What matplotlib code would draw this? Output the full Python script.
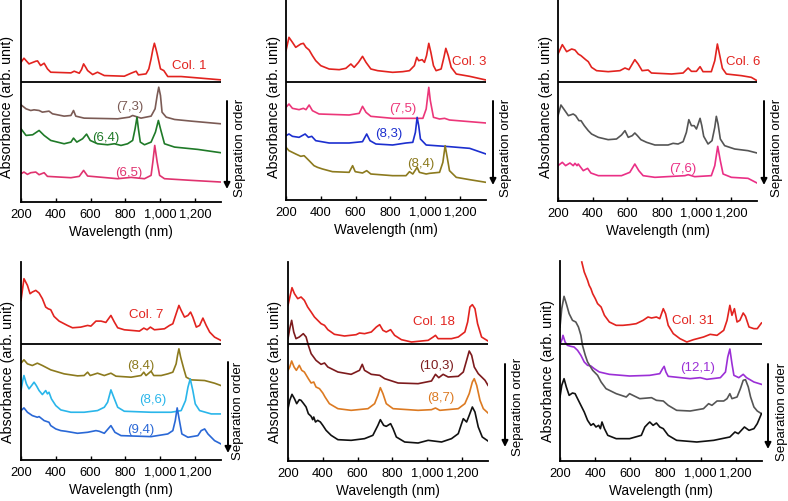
#!/usr/bin/env python3
import matplotlib
matplotlib.use("Agg")
import matplotlib.pyplot as plt

plt.rcParams["font.family"] = ["Liberation Sans", "DejaVu Sans"]

W, H = 788, 502

TICKS = [200, 400, 600, 800, 1000, 1200]
TICK_LABELS = ["200", "400", "600", "800", "1,000", "1,200"]

# ---- Col. 1 ----
COL1_WL = [200, 217, 246, 285, 295, 313, 333, 352, 371, 430, 487, 506, 535, 548, 560, 572, 583, 612, 640, 679,
           794, 833, 862, 875, 919, 935, 948, 958, 967, 975, 983, 1002, 1021, 1044, 1121, 1237, 1350]
COL1_ABS = [6.0, 7.2, 5.5, 6.3, 6.4, 5.0, 5.7, 4.0, 3.0, 2.9, 2.8, 3.3, 2.7, 3.8, 5.5, 4.5, 3.5, 2.3, 3.0, 2.0,
            1.8, 2.7, 3.3, 2.2, 2.5, 4.0, 7.0, 9.8, 11.7, 10.2, 8.5, 4.0, 3.5, 1.7, 1.7, 1.2, 0.7]
S73_WL = [200, 229, 256, 275, 304, 323, 361, 381, 448, 487, 502, 515, 563, 756, 823, 842, 890, 948, 971, 983,
          992, 1002, 1011, 1035, 1083, 1179, 1350]
S73_ABS = [6.2, 5.0, 4.5, 4.7, 4.5, 4.0, 4.3, 3.5, 2.8, 3.0, 4.5, 2.8, 2.2, 2.0, 2.5, 3.0, 2.2, 2.8, 5.0, 9.0,
           11.5, 9.0, 4.0, 2.5, 1.8, 1.3, 0.5]
S64_WL = [200, 229, 267, 304, 333, 371, 448, 487, 502, 521, 554, 577, 598, 640, 698, 737, 775, 813, 842, 856,
          867, 875, 886, 910, 948, 973, 990, 1002, 1025, 1083, 1217, 1350]
S64_ABS = [8.0, 6.0, 6.2, 7.5, 6.0, 4.5, 3.5, 4.0, 5.2, 4.0, 5.0, 6.4, 4.5, 3.5, 3.2, 3.5, 3.0, 3.5, 4.5, 8.0,
           11.5, 8.0, 4.0, 3.2, 4.0, 7.0, 10.5, 8.0, 3.5, 2.5, 1.8, 0.8]
S65_WL = [200, 217, 237, 256, 285, 304, 333, 352, 487, 535, 560, 583, 756, 833, 910, 948, 958, 969, 983, 997,
          1025, 1179, 1350]
S65_ABS = [3.5, 4.0, 3.3, 3.8, 4.0, 3.2, 3.8, 2.7, 2.3, 2.7, 4.5, 2.8, 2.0, 2.4, 2.0, 3.0, 7.0, 12.0, 7.0, 3.0,
           2.0, 1.5, 1.0]

# ---- Col. 3 ----
COL3_WL = [200, 217, 237, 256, 285, 300, 315, 333, 352, 371, 400, 448, 506, 544, 573, 592, 617, 640, 660, 688,
           727, 813, 871, 910, 938, 952, 963, 983, 996, 1008, 1021, 1033, 1048, 1063, 1092, 1108, 1119, 1133,
           1150, 1179, 1256, 1350]
COL3_ABS = [9.8, 13.8, 12.3, 10.8, 11.8, 12.0, 10.8, 10.0, 8.3, 6.8, 5.3, 4.3, 4.1, 4.5, 5.8, 4.8, 6.3, 8.1,
            6.3, 4.3, 3.8, 3.3, 3.5, 3.8, 5.3, 7.8, 6.8, 7.1, 6.3, 8.3, 12.0, 9.3, 5.3, 3.8, 4.3, 7.8, 10.5,
            8.3, 4.8, 2.8, 2.1, 1.0]
S75_WL = [200, 217, 237, 275, 300, 315, 333, 352, 390, 563, 621, 640, 660, 688, 813, 987, 1006, 1014, 1021,
          1030, 1048, 1083, 1112, 1140, 1350]
S75_ABS = [5.8, 6.8, 5.5, 5.1, 5.5, 5.1, 6.5, 4.8, 3.8, 3.5, 4.0, 6.1, 4.3, 3.1, 2.5, 2.5, 5.3, 8.8, 11.8,
           7.8, 2.8, 2.3, 2.5, 2.0, 1.1]
S83_WL = [200, 217, 237, 275, 310, 329, 348, 371, 448, 563, 640, 664, 683, 717, 813, 890, 929, 944, 954, 963,
          973, 1006, 1140, 1256, 1350]
S83_ABS = [6.3, 6.8, 6.1, 5.8, 6.8, 5.8, 6.1, 4.8, 4.1, 4.1, 4.5, 6.8, 4.8, 3.8, 3.5, 4.1, 4.3, 7.3, 11.8,
           9.3, 5.3, 3.5, 3.0, 2.5, 0.8]
S84A_WL = [200, 217, 256, 285, 304, 333, 361, 381, 410, 467, 563, 583, 598, 640, 664, 688, 813, 890, 910, 929,
           954, 967, 1006, 1025, 1083, 1102, 1115, 1127, 1140, 1179, 1256, 1350]
S84A_ABS = [10.8, 9.8, 8.8, 8.1, 8.3, 6.8, 5.3, 4.8, 4.3, 3.5, 3.3, 5.3, 3.5, 3.1, 3.8, 2.8, 2.3, 2.3, 3.5,
            2.8, 4.8, 3.3, 2.8, 3.0, 3.3, 6.3, 11.3, 7.8, 3.8, 1.8, 1.1, 0.3]

# ---- Col. 6 ----
COL6_WL = [200, 225, 250, 279, 298, 317, 333, 360, 375, 394, 423, 490, 558, 587, 610, 644, 663, 686, 721, 740,
           856, 923, 952, 971, 1000, 1021, 1038, 1086, 1106, 1121, 1135, 1150, 1173, 1260, 1317, 1350]
COL6_ABS = [8.1, 10.9, 8.8, 9.6, 9.3, 8.1, 7.6, 6.4, 5.8, 4.1, 3.1, 2.8, 3.1, 3.9, 3.4, 6.4, 5.1, 3.1, 3.3,
            2.4, 2.1, 2.4, 3.9, 2.9, 2.9, 4.3, 2.8, 2.8, 6.1, 11.1, 7.6, 3.8, 2.1, 1.6, 1.1, 0.1]
GRAY3_WL = [200, 217, 240, 260, 288, 302, 321, 333, 352, 375, 394, 433, 490, 538, 567, 587, 606, 629, 644, 659,
            679, 712, 760, 836, 865, 894, 923, 942, 956, 971, 987, 1000, 1010, 1021, 1031, 1042, 1067, 1090,
            1106, 1115, 1125, 1138, 1163, 1221, 1298, 1350]
GRAY3_ABS = [11.6, 14.8, 13.1, 11.6, 12.1, 11.6, 10.1, 10.1, 8.6, 7.1, 6.1, 5.1, 4.4, 4.6, 5.8, 7.1, 5.1, 5.6,
             6.4, 5.6, 4.4, 3.6, 2.8, 2.8, 3.3, 3.1, 3.8, 6.6, 10.4, 8.6, 8.6, 7.6, 9.1, 10.8, 8.6, 5.4, 3.1,
             4.1, 8.1, 11.4, 9.1, 4.6, 2.6, 1.6, 1.1, 0.4]
S76_WL = [200, 225, 244, 269, 288, 298, 310, 317, 346, 371, 390, 433, 567, 615, 644, 667, 692, 760, 933, 952,
          990, 1086, 1106, 1123, 1138, 1154, 1202, 1298, 1350]
S76_ABS = [5.6, 6.6, 5.6, 6.4, 5.6, 6.3, 5.6, 6.1, 4.1, 4.8, 3.4, 2.6, 2.6, 3.6, 6.1, 4.1, 2.6, 2.1, 2.6, 2.9,
           2.3, 2.6, 5.6, 11.4, 7.1, 3.1, 2.1, 1.8, 0.4]

# ---- Col. 7 ----
COL7_WL = [200, 217, 237, 252, 265, 285, 304, 323, 342, 356, 371, 390, 419, 467, 496, 544, 583, 602, 631, 660,
           688, 717, 737, 756, 794, 881, 906, 925, 944, 967, 1025, 1054, 1073, 1092, 1108, 1121, 1140, 1160,
           1175, 1188, 1208, 1227, 1246, 1265, 1285, 1313, 1350]
COL7_ABS = [13.8, 20.3, 18.3, 15.8, 16.3, 16.8, 16.0, 14.3, 11.8, 11.3, 11.0, 9.0, 7.6, 6.3, 5.6, 5.8, 6.3,
            6.1, 7.6, 7.6, 7.2, 9.3, 7.3, 5.6, 5.0, 4.6, 5.5, 5.0, 5.8, 5.0, 5.3, 6.3, 6.8, 9.8, 12.3, 10.8,
            8.8, 9.3, 10.3, 8.8, 5.8, 6.3, 8.5, 6.3, 4.3, 2.8, 1.8]
S84B_WL = [200, 217, 237, 265, 294, 323, 371, 448, 525, 563, 583, 598, 640, 679, 717, 746, 833, 890, 906, 919,
           948, 963, 1006, 1044, 1073, 1092, 1100, 1108, 1118, 1136, 1150, 1179, 1256, 1313, 1350]
S84B_ABS = [7.0, 8.0, 6.8, 6.3, 7.0, 6.3, 5.0, 3.8, 3.2, 3.3, 4.3, 3.3, 4.0, 3.3, 4.0, 3.1, 2.8, 3.3, 4.3, 3.3,
            4.6, 3.3, 3.3, 3.8, 4.3, 6.8, 9.3, 11.3, 8.8, 5.3, 2.8, 2.0, 1.8, 1.0, 0.3]
S86_WL = [200, 210, 217, 231, 246, 261, 275, 288, 304, 323, 342, 352, 361, 375, 400, 429, 487, 563, 640, 679,
          698, 717, 737, 756, 794, 948, 1063, 1121, 1146, 1160, 1173, 1188, 1202, 1227, 1294, 1350]
S86_ABS = [7.8, 10.8, 12.3, 9.8, 8.3, 9.3, 10.3, 9.3, 7.8, 6.6, 7.8, 6.8, 7.3, 5.3, 3.3, 2.0, 1.3, 1.3, 1.8,
           2.8, 4.3, 8.0, 5.3, 2.8, 1.6, 1.3, 1.3, 1.8, 4.8, 8.8, 11.3, 7.8, 3.8, 1.8, 0.8, 0.8]
S94_WL = [200, 217, 237, 265, 294, 304, 333, 361, 371, 400, 429, 458, 525, 583, 631, 650, 679, 717, 740, 775,
          948, 1044, 1073, 1087, 1098, 1111, 1125, 1160, 1217, 1236, 1256, 1275, 1313, 1350]
S94_ABS = [10.8, 11.6, 10.3, 9.3, 8.8, 9.0, 7.8, 7.3, 6.3, 5.3, 4.8, 4.6, 4.0, 4.3, 4.8, 4.6, 4.0, 6.3, 4.3,
           3.3, 3.0, 3.8, 4.8, 7.8, 11.6, 7.8, 3.8, 2.8, 3.3, 4.8, 5.3, 3.8, 1.8, 0.8]

# ---- Col. 18 ----
COL18_WL = [200, 215, 223, 237, 256, 275, 294, 313, 333, 352, 371, 390, 410, 429, 467, 525, 592, 611, 640, 679,
            708, 727, 746, 765, 790, 813, 852, 910, 1006, 1035, 1048, 1063, 1140, 1179, 1217, 1233, 1246, 1260,
            1275, 1290, 1313, 1350]
COL18_ABS = [11.7, 15.2, 17.0, 15.2, 13.7, 14.2, 13.2, 11.2, 9.7, 8.2, 7.2, 6.2, 5.7, 4.4, 3.0, 2.5, 2.9, 3.4,
             3.2, 3.7, 5.2, 5.9, 4.2, 3.7, 4.4, 2.7, 1.4, 0.7, 1.2, 2.2, 2.7, 1.7, 1.7, 2.2, 3.7, 6.7, 11.2,
             11.9, 10.7, 6.2, 2.2, 1.0]
S103_WL = [200, 210, 221, 233, 246, 265, 288, 304, 317, 333, 361, 390, 410, 429, 487, 563, 611, 627, 640, 679,
           727, 756, 833, 948, 1025, 1048, 1067, 1092, 1121, 1179, 1208, 1227, 1242, 1256, 1271, 1294, 1333, 1350]
S103_ABS = [14.7, 17.7, 20.2, 16.7, 14.7, 15.2, 16.2, 15.2, 12.7, 10.2, 8.2, 7.0, 7.4, 6.2, 4.7, 4.0, 5.2, 7.0,
            5.2, 4.0, 3.7, 2.7, 1.4, 1.2, 2.0, 4.0, 3.0, 4.0, 3.2, 3.4, 4.7, 8.2, 11.0, 9.7, 6.2, 4.2, 2.2, 0.7]
S87_WL = [200, 210, 221, 235, 248, 265, 279, 294, 317, 333, 348, 361, 381, 400, 413, 438, 487, 563, 660, 698,
          717, 731, 746, 765, 804, 948, 1025, 1048, 1073, 1179, 1217, 1242, 1260, 1271, 1285, 1304, 1323, 1350]
S87_ABS = [13.2, 14.2, 16.0, 14.2, 13.2, 14.7, 13.2, 12.7, 10.7, 9.4, 9.7, 8.2, 7.7, 6.4, 5.2, 3.2, 1.7, 1.2,
           1.7, 3.2, 5.7, 8.0, 6.2, 3.2, 1.7, 1.2, 1.4, 1.9, 1.2, 1.7, 3.2, 6.2, 9.7, 10.7, 8.7, 4.2, 1.7, 0.4]
BLACK5_WL = [200, 210, 223, 237, 250, 265, 275, 290, 304, 317, 333, 342, 348, 358, 371, 386, 400, 419, 448, 487,
             563, 640, 688, 717, 731, 750, 765, 790, 804, 823, 871, 948, 1006, 1083, 1140, 1179, 1198, 1208,
             1227, 1242, 1260, 1275, 1294, 1317, 1350]
BLACK5_ABS = [10.7, 13.2, 15.0, 13.7, 12.2, 13.4, 13.2, 12.2, 11.2, 9.2, 8.4, 7.4, 8.2, 6.7, 7.2, 6.7, 5.7,
              4.2, 2.7, 1.4, 1.2, 1.7, 2.7, 5.7, 7.4, 5.7, 5.4, 6.2, 4.7, 2.2, 0.7, 0.4, 1.2, 0.7, 1.7, 3.2,
              6.2, 7.7, 6.7, 8.7, 11.2, 9.7, 5.2, 2.2, 1.0]

# ---- Col. 31 ----
COL31_WL = [324, 338, 357, 366, 376, 386, 401, 414, 434, 453, 481, 520, 558, 596, 634, 673, 701, 721, 749, 768,
            788, 801, 816, 845, 883, 922, 960, 1017, 1055, 1094, 1132, 1151, 1167, 1179, 1193, 1208, 1224, 1243,
            1256, 1276, 1304, 1323, 1347]
COL31_ABS = [24.7, 21.7, 19.2, 17.7, 16.7, 15.2, 13.7, 12.2, 11.2, 8.7, 6.7, 5.7, 5.7, 5.9, 6.2, 7.2, 8.2, 7.9,
             8.2, 7.7, 10.7, 9.2, 5.7, 3.2, 1.7, 0.7, 1.4, 2.2, 3.0, 2.7, 4.2, 7.2, 11.7, 8.7, 10.7, 6.7, 7.2,
             9.4, 8.4, 5.2, 4.7, 4.7, 6.4]
S121_WL = [200, 213, 217, 229, 242, 261, 280, 300, 319, 338, 357, 376, 395, 424, 481, 596, 711, 768, 784, 793,
           803, 816, 941, 998, 1036, 1113, 1142, 1155, 1167, 1179, 1190, 1218, 1243, 1262, 1304, 1347]
S121_ABS = [12.0, 13.7, 14.7, 12.7, 11.7, 11.4, 11.2, 10.2, 8.7, 6.7, 5.7, 5.5, 4.7, 3.7, 3.0, 2.5, 2.7, 3.2,
            4.7, 5.4, 3.7, 2.4, 1.7, 2.0, 1.5, 2.0, 3.7, 8.2, 10.6, 6.2, 2.7, 2.0, 3.0, 2.0, 0.7, 0.0]
GRAY6_WL = [200, 210, 223, 236, 252, 271, 290, 305, 319, 328, 344, 357, 386, 414, 434, 462, 520, 577, 596, 615,
            654, 721, 749, 788, 816, 864, 941, 1017, 1046, 1065, 1094, 1132, 1151, 1167, 1179, 1208, 1227, 1243,
            1256, 1272, 1285, 1304, 1323, 1347]
GRAY6_ABS = [26.2, 31.7, 35.4, 33.2, 30.2, 28.2, 27.7, 26.2, 23.7, 20.7, 17.7, 15.7, 13.2, 11.7, 9.7, 7.7, 6.2,
             5.2, 6.2, 5.7, 4.7, 5.0, 4.2, 4.0, 2.7, 1.2, 1.0, 1.7, 3.2, 2.7, 4.0, 4.0, 4.7, 6.2, 4.7, 5.2, 7.7,
             10.2, 10.4, 8.2, 5.2, 2.2, 1.0, 0.2]
BLACK6_WL = [200, 210, 223, 236, 252, 271, 286, 300, 319, 338, 357, 376, 390, 405, 420, 430, 439, 453, 472, 520,
             596, 663, 683, 701, 711, 730, 749, 768, 788, 816, 864, 979, 1075, 1167, 1196, 1215, 1250, 1276,
             1304, 1323, 1347]
BLACK6_ABS = [14.2, 17.7, 19.7, 17.2, 14.7, 15.4, 15.2, 13.7, 11.7, 9.7, 7.2, 5.7, 6.2, 5.2, 5.7, 4.7, 6.7,
              4.7, 2.7, 1.7, 1.7, 2.7, 5.2, 6.2, 6.7, 5.7, 6.4, 5.2, 4.7, 2.7, 1.2, 0.7, 1.2, 2.2, 3.7, 3.2,
              5.2, 4.2, 4.7, 6.2, 9.2]

RED = "#e2231f"
C73 = "#7b5b55"
C64 = "#1f7a28"
C65 = "#e0336f"
C75 = "#ec3679"
C83 = "#1c2fcf"
C84 = "#8c7a1e"
GRAY = "#555555"
C76 = "#ea2f86"
C86 = "#2ab6ea"
C94 = "#2a68d6"
C103 = "#7d1b1d"
C87 = "#dc7a22"
BLACK = "#111111"
C121 = "#9b2fd6"

# layout: box (left, top, right, bottom) in pixels, y-top, separator level
PANELS = [
    dict(box=(21, 0, 221, 203), ytop=61.0, sep=36.2,
         curves=[(COL1_WL, COL1_ABS, 36, RED), (S73_WL, S73_ABS, 23, C73),
                 (S64_WL, S64_ABS, 14, C64), (S65_WL, S65_ABS, 5, C65)],
         labels=[("Col. 1", 1169, 41.2, RED), ("(7,3)", 823, 28.8, C73),
                 ("(6,4)", 688, 19.5, C64), ("(6,5)", 819, 9.0, C65)],
         arrow=(227, 102, 190), order=(240, 148), ylab=(7, 107)),
    dict(box=(286, 0, 486, 201), ytop=60.3, sep=35.5,
         curves=[(COL3_WL, COL3_ABS, 35, RED), (S75_WL, S75_ABS, 22, C75),
                 (S83_WL, S83_ABS, 13, C83), (S84A_WL, S84A_ABS, 5, C84)],
         labels=[("Col. 3", 1256, 41.6, RED), ("(7,5)", 871, 27.5, C75),
                 ("(8,3)", 792, 20.2, C83), ("(8,4)", 977, 11.0, C84)],
         arrow=(493, 102, 186), order=(506, 148), ylab=(274, 107)),
    dict(box=(558, 0, 757, 202), ytop=60.6, sep=35.8,
         curves=[(COL6_WL, COL6_ABS, 36, RED), (GRAY3_WL, GRAY3_ABS, 14, GRAY),
                 (S76_WL, S76_ABS, 5, C76)],
         labels=[("Col. 6", 1269, 41.9, RED), ("(7,6)", 923, 10.0, C76)],
         arrow=(764, 102, 186), order=(777, 148), ylab=(546, 107)),
    dict(box=(21, 263, 221, 461), ytop=59.3, sep=34.6,
         curves=[(COL7_WL, COL7_ABS, 34, RED), (S84B_WL, S84B_ABS, 22, C84),
                 (S86_WL, S86_ABS, 13, C86), (S94_WL, S94_ABS, 4, C94)],
         labels=[("Col. 7", 919, 43.8, RED), ("(8,4)", 890, 28.4, C84),
                 ("(8,6)", 958, 18.3, C86), ("(9,4)", 890, 9.2, C94)],
         arrow=(228, 363, 454), order=(238, 411), ylab=(8, 372)),
    dict(box=(288, 263, 488, 462), ytop=59.7, sep=35.0,
         curves=[(COL18_WL, COL18_ABS, 35, RED), (S103_WL, S103_ABS, 22, C103),
                 (S87_WL, S87_ABS, 14, C87), (BLACK5_WL, BLACK5_ABS, 5, BLACK)],
         labels=[("Col. 18", 1038, 41.9, RED), ("(10,3)", 1054, 28.8, C103),
                 ("(8,7)", 1081, 19.1, C87)],
         arrow=(505, 365, 448), order=(518, 407), ylab=(275, 372)),
    dict(box=(560, 262, 762, 462), ytop=60.0, sep=35.0,
         curves=[(COL31_WL, COL31_ABS, 35, RED), (S121_WL, S121_ABS, 23, C121),
                 (GRAY6_WL, GRAY6_ABS, 14, GRAY), (BLACK6_WL, BLACK6_ABS, 5, BLACK)],
         labels=[("Col. 31", 956, 42.2, RED), ("(12,1)", 981, 28.2, C121)],
         arrow=(768, 365, 450), order=(782, 412), ylab=(548, 371)),
]


def main():
    fig = plt.figure(figsize=(W / 100, H / 100), dpi=100)

    for p in PANELS:
        l, t, r, b = p["box"]
        ax = fig.add_axes([l / W, 1 - b / H, (r - l) / W, (b - t) / H])
        for wl, ab, off, color in p["curves"]:
            ax.plot(wl, [v + off for v in ab], color=color, lw=1.2)
        ax.axhline(p["sep"], color="black", lw=1.3)
        for text, x, y, color in p["labels"]:
            ax.text(x, y, text, color=color, fontsize=9.5, ha="center", va="center")

        ax.set_xlim(200, 1350)
        ax.set_ylim(0, p["ytop"])
        ax.set_xticks(TICKS)
        ax.set_xticklabels(TICK_LABELS)
        ax.set_yticks([])
        ax.tick_params(axis="x", direction="in", length=3, width=1, pad=4, labelsize=9.3)
        for side in ("top", "right"):
            ax.spines[side].set_visible(False)
        for side in ("left", "bottom"):
            ax.spines[side].set_linewidth(1.3)
        ax.set_xlabel("Wavelength (nm)", fontsize=9.8, labelpad=3)

        yx, yy = p["ylab"]
        fig.text(yx / W, 1 - yy / H, "Absorbance (arb. unit)", rotation=90,
                 ha="center", va="center", fontsize=10.3)

        ax_x, a_top, a_bot = p["arrow"]
        ax.annotate("", xy=(ax_x, H - a_bot), xytext=(ax_x, H - a_top),
                    xycoords="figure pixels", textcoords="figure pixels",
                    arrowprops=dict(arrowstyle="-|>", lw=1.4, color="black",
                                    mutation_scale=9, shrinkA=0, shrinkB=0))
        ox, oy = p["order"]
        fig.text(ox / W, 1 - oy / H, "Separation order", rotation=90,
                 ha="center", va="center", fontsize=9.5)

    fig.savefig("out.png", dpi=100)
    plt.close(fig)


if __name__ == "__main__":
    main()
